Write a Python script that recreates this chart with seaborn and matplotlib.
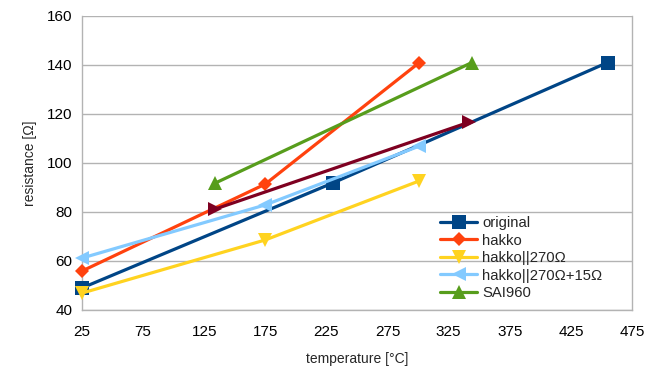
import numpy as np
import pandas as pd
import seaborn as sns
from matplotlib import pyplot as plt

# values
original_t = [25, 230, 455]
original_r = [49, 91.8, 141]
hakko_t = [25, 175, 301]
hakko_r = [55.9, 91.4, 141]
hakko270_t = [25, 175, 301]
hakko270_r = [46.9, 68.6, 92.7]
hakko270_15_t = [25, 175, 301]
hakko270_15_r = [61.2, 82.9, 106.9]
sai960_t = [134, 344]
sai960_r = [91.8, 141]
extra_t = [134, 342]
extra_r = [81.2, 116.7]

series = [
    ('original', original_t, original_r, '#004586', 's', 9.5),
    ('hakko', hakko_t, hakko_r, '#ff420e', 'D', 7.5),
    ('hakko||270Ω', hakko270_t, hakko270_r, '#ffd320', 'v', 9.5),
    ('hakko||270Ω+15Ω', hakko270_15_t, hakko270_15_r, '#83caff', '<', 9.5),
    ('SAI960', sai960_t, sai960_r, '#579d1c', '^', 9.5),
    ('_extra', extra_t, extra_r, '#7e0021', '>', 9.5),
]

sns.set_style('white')
plt.rcParams['font.family'] = ['Liberation Sans', 'DejaVu Sans']

fig = plt.figure(figsize=(6.69, 3.87), dpi=100)
ax = fig.add_axes([0.1226, 0.199, 0.8221, 0.7597])

for name, t, r, col, mk, ms in series:
    df = pd.DataFrame({'t': t, 'r': r})
    sns.lineplot(data=df, x='t', y='r', ax=ax, color=col, marker=mk,
                 markersize=ms, markeredgewidth=0, linewidth=2.3,
                 label=name, sort=False, clip_on=False, zorder=3)

ax.set_xlim(25, 475)
ax.set_ylim(40, 160)
ax.set_xticks(np.arange(25, 476, 50))
ax.set_yticks(np.arange(40, 161, 20))
ax.yaxis.grid(True, color='#b3b3b3', linewidth=1)
ax.xaxis.grid(False)
ax.set_axisbelow(True)
for s in ('left', 'bottom', 'right'):
    ax.spines[s].set_color('#b3b3b3')
    ax.spines[s].set_linewidth(1)
ax.spines['top'].set_visible(False)
ax.tick_params(axis='both', which='both', direction='out', length=5,
               color='#b3b3b3', labelsize=11, labelcolor='black')
ax.tick_params(axis='x', pad=6)
ax.tick_params(axis='y', pad=2)
ax.set_xlabel('temperature [°C]', fontsize=10, labelpad=9)
ax.set_ylabel('resistance [Ω]', fontsize=10, labelpad=7)

handles, labels = ax.get_legend_handles_labels()
keep = [(h, l) for h, l in zip(handles, labels) if not l.startswith('_')]
ax.legend([h for h, l in keep], [l for h, l in keep], loc='upper left',
          bbox_to_anchor=(440 / 669, 1 - 216 / 387),
          bbox_transform=fig.transFigure, frameon=False, fontsize=10.7,
          handlelength=2.5, handletextpad=0.35, labelspacing=0.24,
          borderpad=0, borderaxespad=0)

fig.savefig('out.png', dpi=100)
